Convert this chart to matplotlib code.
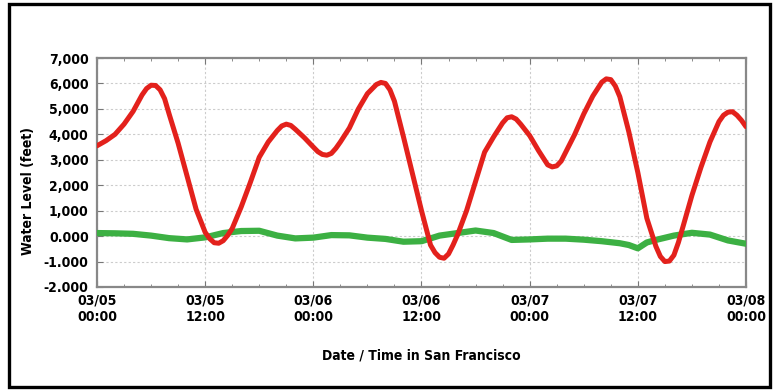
import matplotlib
matplotlib.use("Agg")
import matplotlib.pyplot as plt
from matplotlib.patches import Rectangle
from matplotlib.ticker import MultipleLocator
from matplotlib import font_manager

# hours since 03/05 00:00 (half hours near the turns)
tide_hours = [0, 1, 2, 3, 4, 5, 5.5, 6, 6.5, 7, 7.5, 8, 9,
              10, 11, 12, 12.5, 13, 13.5, 14, 14.5, 15, 16, 17, 18, 19,
              20, 20.5, 21, 21.5, 22, 23, 24, 24.5, 25, 25.5, 26, 26.5, 27, 28, 29,
              30, 31, 31.5, 32, 32.5, 33, 34, 35, 36, 37, 37.5, 38, 38.5, 39, 39.5,
              40, 41, 42, 43, 44, 45, 45.5, 46, 46.5, 47, 48, 49,
              50, 50.5, 51, 51.5, 52, 53, 54, 55, 56, 56.5, 57, 57.5, 58, 59,
              60, 61, 62, 62.5, 63, 63.5, 64, 64.5, 65, 66, 67, 68, 69, 69.5,
              70, 70.5, 71, 71.5, 72]
tide_feet = [3550, 3750, 4000, 4400, 4900, 5550, 5800, 5930, 5920, 5750, 5400, 4800, 3650,
             2350, 1050, 150, -100, -260, -280, -180, 30, 300, 1150, 2100, 3100, 3700,
             4150, 4330, 4400, 4350, 4200, 3870, 3500, 3320, 3210, 3180, 3250, 3450, 3700, 4250, 5000,
             5600, 5960, 6040, 6000, 5750, 5300, 3900, 2450, 1000, -350, -650, -830, -870, -700, -350,
             50, 1000, 2150, 3300, 3900, 4450, 4650, 4690, 4600, 4400, 3950, 3350,
             2800, 2720, 2760, 2950, 3300, 4000, 4800, 5500, 6050, 6180, 6150, 5900, 5480, 4100,
             2500, 700, -400, -800, -1000, -980, -750, -250, 360, 1600, 2700, 3700, 4500, 4750,
             4870, 4890, 4750, 4550, 4300]

resid_hours = [0, 2, 4, 6, 8, 10, 12, 14, 16, 18, 20, 22, 24, 26, 28, 30, 32,
               34, 36, 38, 40, 42, 44, 46, 48, 50, 52, 54, 56, 58, 59, 60, 61,
               62, 64, 66, 68, 70, 72]
resid_feet = [120, 110, 90, 20, -80, -130, -50, 120, 200, 210, 20, -90, -60,
              40, 30, -60, -110, -220, -200, 20, 120, 220, 120, -150, -130,
              -100, -100, -140, -200, -280, -350, -480, -250, -150, 20, 130,
              60, -170, -300]

xtick_hours = [0, 12, 24, 36, 48, 60, 72]
xtick_labels = ["03/05\n00:00", "03/05\n12:00", "03/06\n00:00", "03/06\n12:00",
                "03/07\n00:00", "03/07\n12:00", "03/08\n00:00"]
ytick_vals = [7000, 6000, 5000, 4000, 3000, 2000, 1000, 0, -1000, -2000]
ytick_labels = ["7,000", "6,000", "5,000", "4,000", "3,000", "2,000",
                "1,000", "0.000", "-1.000", "-2.000"]

# narrow bold face, like the original
names = {f.name for f in font_manager.fontManager.ttflist}
if "Liberation Sans Narrow" in names:
    fp = font_manager.FontProperties(family="Liberation Sans Narrow", weight="bold", size=10.5)
else:
    fp = font_manager.FontProperties(family="DejaVu Sans", stretch="condensed",
                                     weight="bold", size=10)

fig = plt.figure(figsize=(7.8, 3.9), dpi=100)
ax = fig.add_axes([97/780, 1-287/390, 649/780, 229/390])

ax.plot(resid_hours, resid_feet, color="#3cb043", lw=4.5, solid_capstyle="round", zorder=3)
ax.plot(tide_hours, tide_feet, color="#e3211c", lw=3.6, solid_capstyle="round",
        solid_joinstyle="round", zorder=4)

ax.set_xlim(0, 72)
ax.set_ylim(-2000, 7000)
ax.set_xticks(xtick_hours)
ax.set_xticklabels(xtick_labels)
ax.xaxis.set_minor_locator(MultipleLocator(3))
ax.set_yticks(ytick_vals)
ax.set_yticklabels(ytick_labels)

for lab in ax.get_xticklabels() + ax.get_yticklabels():
    lab.set_fontproperties(fp)

ax.tick_params(axis="both", which="both", direction="in", color="#777777",
               top=True, right=False)
ax.tick_params(which="major", length=4, pad=6)
ax.tick_params(which="minor", length=2)
ax.tick_params(axis="x", pad=5)

ax.grid(True, which="major", color="#cccccc", lw=0.8, ls=(0, (2, 2)))
for s in ax.spines.values():
    s.set_color("#888888")
    s.set_linewidth(1.6)

ax.set_ylabel("Water Level (feet)", fontproperties=fp)
ax.yaxis.set_label_coords(-0.095, 0.42)
ax.set_xlabel("Date / Time in San Francisco", fontproperties=fp)
ax.xaxis.set_label_coords(0.5, -0.27)

# outer frame
fig.patches.append(Rectangle((9/780, 1-387/390), 761/780, 383/390,
                             transform=fig.transFigure, fill=False,
                             ec="black", lw=2.4))

fig.savefig("out.png", dpi=100)
